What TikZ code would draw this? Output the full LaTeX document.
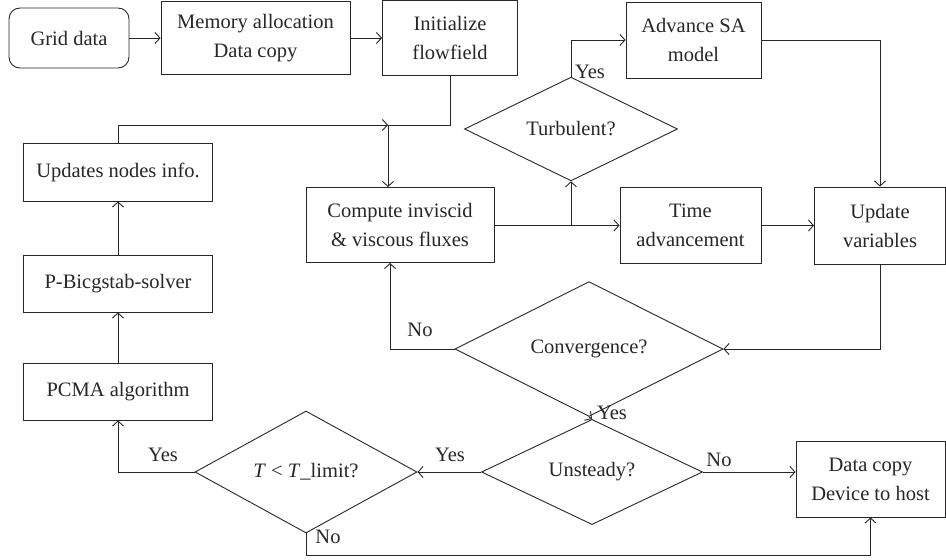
\documentclass[tikz,border=0pt]{standalone}
\usepackage{fontspec}
\setmainfont{Liberation Serif}
\usetikzlibrary{arrows.meta,shapes.geometric,calc}
\definecolor{ink}{RGB}{40,38,38}

\begin{document}
\begin{tikzpicture}[x=1pt,y=-1pt,line width=0.9pt,draw=ink,text=ink,
    font=\fontsize{20.5}{29}\selectfont,
    box/.style={draw,rectangle,align=center,inner sep=0pt},
    decision/.style={draw,diamond,align=center,inner sep=0pt},
    flow/.style={-{Straight Barb[length=5pt,width=11pt]}},
    lbl/.style={inner sep=1pt}]
\useasboundingbox (0,0) rectangle (946,560);
% top row
\node[box,rounded corners=11pt,minimum width=120pt,minimum height=60pt] (grid) at (69,38) {Grid data};
\node[box,minimum width=189pt,minimum height=73pt] (mem) at (255.5,38) {Memory allocation\\Data copy};
\node[box,minimum width=135pt,minimum height=75pt] (init) at (450,38) {Initialize\\flowfield};
\node[box,minimum width=135pt,minimum height=76pt] (adv) at (693.5,40) {Advance SA\\model};
% left column
\node[box,minimum width=189pt,minimum height=58pt] (upd) at (118,172) {Updates nodes info.};
\node[box,minimum width=189pt,minimum height=57pt] (bicg) at (118,283.5) {P-Bicgstab-solver};
\node[box,minimum width=189pt,minimum height=57pt] (pcma) at (118,391.5) {PCMA algorithm};
% middle row
\node[box,minimum width=188pt,minimum height=75pt] (comp) at (400,225) {Compute inviscid\\\& viscous fluxes};
\node[box,minimum width=141pt,minimum height=76pt] (time) at (690.5,225.5) {Time\\advancement};
\node[box,minimum width=131pt,minimum height=77pt] (updv) at (880,225.5) {Update\\variables};
\node[box,minimum width=149pt,minimum height=76pt] (dcopy) at (870.5,479) {Data copy\\Device to host};
% decisions
\node[decision,minimum width=213pt,minimum height=82pt] (turb) at (571,129) {Turbulent?};
\node[decision,minimum width=268pt,minimum height=83pt] (conv) at (589,349) {Convergence?};
\node[decision,minimum width=221pt,minimum height=83pt] (unst) at (592,472) {Unsteady?};
\node[decision,minimum width=222pt,minimum height=82pt] (tlim) at (306,472) {\textit{T} < \textit{T}\_limit?};
\coordinate (join) at (388,125);
\coordinate (bottom) at (0,555);
% connectors
\draw[flow] (grid.east |- mem.west) -- (mem.west);
\draw[flow] (mem.east) -- (init.west);
\draw (init.south) |- (join);
\draw[flow] (upd.north) |- (join);
\draw[flow] (join) -- (join |- comp.north);
\draw[flow] (comp.east |- time.west) -- (time.west);
\draw[flow] (turb.south |- time.west) -- (turb.south);
\draw[flow] (turb.north) |- (adv.west);
\draw[flow] (adv.east) -| (updv.north);
\draw[flow] (time.east) -- (updv.west);
\draw[flow] (updv.south) |- (conv.east);
\draw[flow] (conv.west) -| ([xshift=2pt]join |- comp.south);
\draw[flow] (conv.south) -- (unst.north);
\draw[flow] (unst.west) -- (tlim.east);
\draw[flow] (unst.east) -- (unst.east -| dcopy.west);
\draw[flow] (tlim.west) -| (pcma.south);
\draw[flow] (tlim.south) |- (bottom -| dcopy.south) -- (dcopy.south);
\draw[flow] (pcma.north) -- (bicg.south);
\draw[flow] (bicg.north) -- (upd.south);
% labels
\node[lbl] (y1) at (590,72) {Yes};
\node[lbl] (n1) at (420,330) {No};
\node[lbl] (y2) at (612,413) {Yes};
\node[lbl] (y3) at (450,455) {Yes};
\node[lbl] (n2) at (719,460) {No};
\node[lbl] (y4) at (163,455) {Yes};
\node[lbl] (n3) at (328,537) {No};
\end{tikzpicture}
\end{document}
